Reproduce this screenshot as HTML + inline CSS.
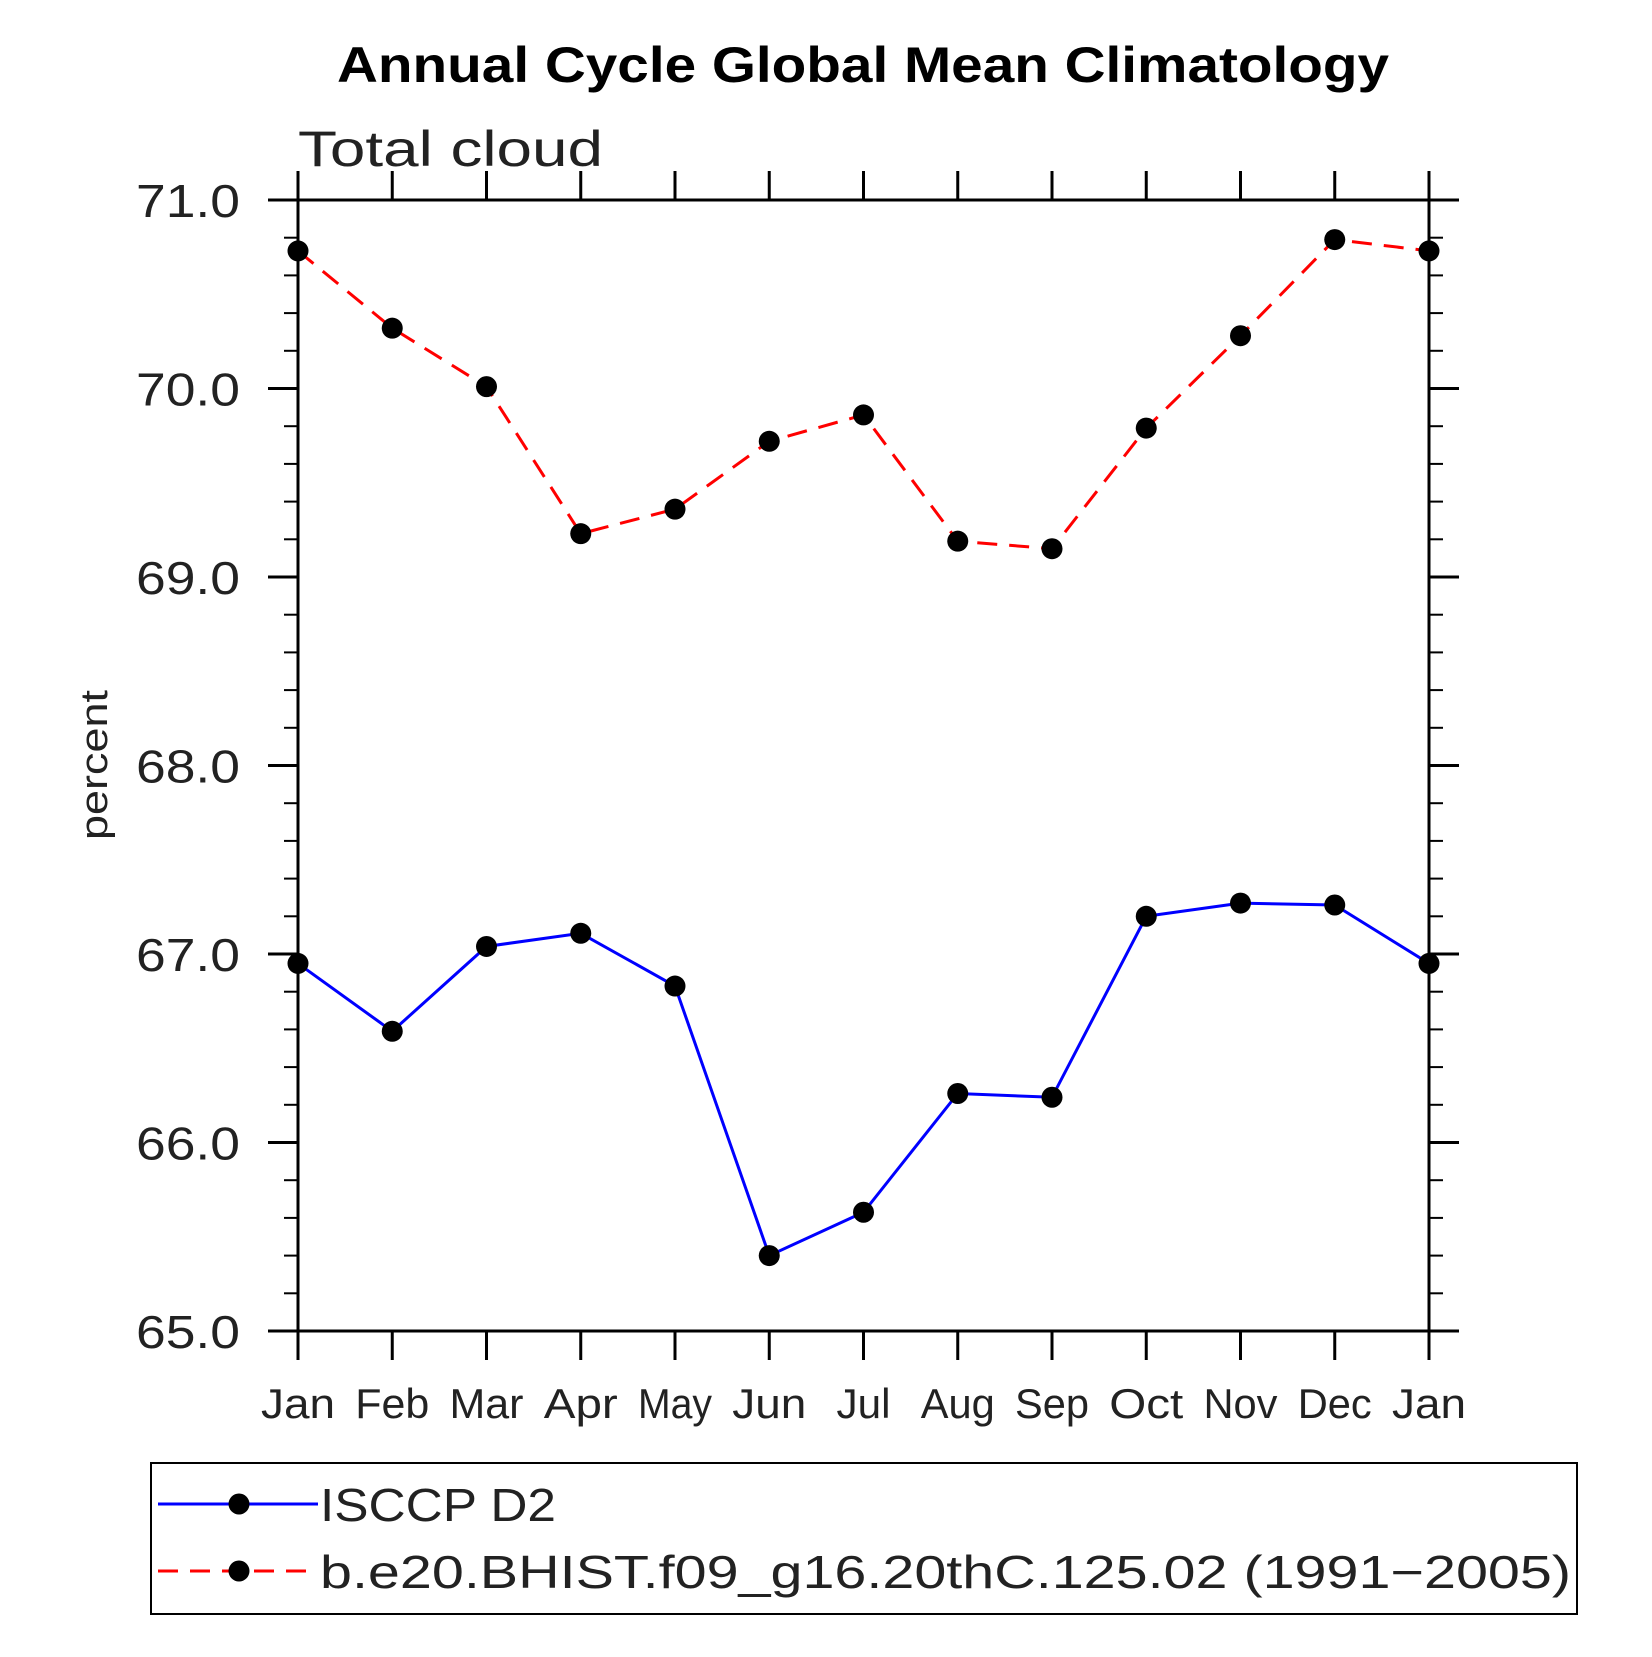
<!DOCTYPE html>
<html><head><meta charset="utf-8"><style>
html,body{margin:0;padding:0;background:#fff;}
svg text{font-family:"Liberation Sans",sans-serif;}
</style></head><body>
<svg id="chart" width="1652" height="1652" viewBox="0 0 1652 1652" xmlns="http://www.w3.org/2000/svg">
<text x="863" y="82" text-anchor="middle" font-size="50" font-weight="bold" textLength="1052" lengthAdjust="spacingAndGlyphs">Annual Cycle Global Mean Climatology</text>
<text x="298" y="166" font-size="50" fill="#222" textLength="305" lengthAdjust="spacingAndGlyphs">Total cloud</text>
<text transform="translate(107,765) rotate(-90)" text-anchor="middle" font-size="38" fill="#222" textLength="150" lengthAdjust="spacingAndGlyphs">percent</text>
<g id="axes"></g>
<g id="series"></g>
<g id="legend">
<rect x="151" y="1463" width="1426" height="151" fill="none" stroke="#000" stroke-width="2"/>
<line x1="158" y1="1504" x2="318" y2="1504" stroke="#0000ff" stroke-width="3"/>
<circle cx="239" cy="1504" r="10.5"/>
<text x="320" y="1521" font-size="46" fill="#222" textLength="236" lengthAdjust="spacingAndGlyphs">ISCCP D2</text>
<line x1="158" y1="1571" x2="318" y2="1571" stroke="#ff0000" stroke-width="3" stroke-dasharray="20,12"/>
<circle cx="239" cy="1571" r="10.5"/>
<text x="320" y="1588" font-size="46" fill="#222" textLength="1251" lengthAdjust="spacingAndGlyphs">b.e20.BHIST.f09_g16.20thC.125.02 (1991−2005)</text>
</g>
</svg>
<script>
const months = ["Jan","Feb","Mar","Apr","May","Jun","Jul","Aug","Sep","Oct","Nov","Dec","Jan"];
const isccpValues = [66.95,66.59,67.04,67.11,66.83,65.40,65.63,66.26,66.24,67.20,67.27,67.26,66.95];
const modelValues = [70.73,70.32,70.01,69.23,69.36,69.72,69.86,69.19,69.15,69.79,70.28,70.79,70.73];
const yTicks = [65,66,67,68,69,70,71];
const yTickLabels = ["65.0","66.0","67.0","68.0","69.0","70.0","71.0"];

const NS="http://www.w3.org/2000/svg";
const L=298,R=1429,T=200,B=1331,yMin=65,yMax=71;
const xS=i=>L+(R-L)*i/(months.length-1);
const yS=v=>B-(B-T)*(v-yMin)/(yMax-yMin);
function mk(tag,attrs,parent){const e=document.createElementNS(NS,tag);for(const k in attrs)e.setAttribute(k,attrs[k]);parent.appendChild(e);return e;}
const ax=document.getElementById('axes');
let f=mk('rect',{x:L,y:T,width:R-L,height:B-T,fill:'none',stroke:'#000','stroke-width':3},ax);


months.forEach((m,i)=>{
  const x=xS(i);
  let t=mk('line',{x1:x,x2:x,y1:B,y2:B+29,stroke:'#000','stroke-width':3},ax);
  
  
  let t2=mk('line',{x1:x,x2:x,y1:T,y2:T-29,stroke:'#000','stroke-width':3},ax);
  
  
  let lb=mk('text',{x:x,y:1418,'text-anchor':'middle','font-size':42,fill:'#222',textLength:m.length===3?(m==="Jul"?54:74):60,lengthAdjust:'spacingAndGlyphs'},ax);
  lb.textContent=m;
  
  
});
for(let v=yMin;v<=yMax+1e-9;v+=0.2){
  const y=yS(v);const major=Math.abs(v-Math.round(v))<1e-6;const len=major?30:14;
  let a=mk('line',{x1:L-len,x2:L,y1:y,y2:y,stroke:'#000','stroke-width':major?3:2},ax);
  
  
  let b=mk('line',{x1:R,x2:R+len,y1:y,y2:y,stroke:'#000','stroke-width':major?3:2},ax);
  
  
}
yTicks.forEach((v,i)=>{
  let lb=mk('text',{x:240,y:yS(v)+17,'text-anchor':'end','font-size':46,fill:'#222',textLength:104,lengthAdjust:'spacingAndGlyphs'},ax);
  lb.textContent=yTickLabels[i];
  
  
});
const sg=document.getElementById('series');
function draw(vals,color,dash,name){
  const pts=vals.map((v,i)=>xS(i)+','+yS(v)).join(' ');
  const attrs={points:pts,fill:'none',stroke:color,'stroke-width':3};
  if(dash)attrs['stroke-dasharray']=dash;
  let p=mk('polyline',attrs,sg);
  
  
  vals.forEach((v,i)=>{
    let c=mk('circle',{cx:xS(i),cy:yS(v),r:10.5,fill:'#000'},sg);
    
    
  });
}
draw(modelValues,'#ff0000','20,12','model');
draw(isccpValues,'#0000ff',null,'isccp');
</script>
</body></html>
